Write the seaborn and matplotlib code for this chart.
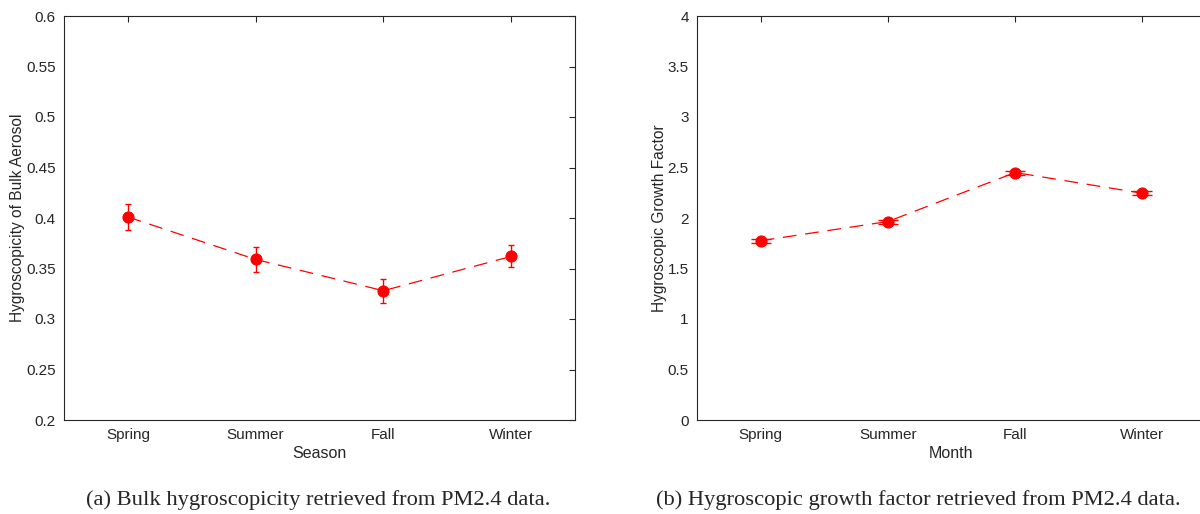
import matplotlib
matplotlib.use("Agg")
import matplotlib.pyplot as plt
import pandas as pd
import seaborn as sns

seasons = ["Spring", "Summer", "Fall", "Winter"]
kappa = [0.401, 0.359, 0.328, 0.362]
kappa_err = [0.0125, 0.012, 0.012, 0.011]
growth = [1.775, 1.965, 2.45, 2.245]
growth_err = [0.02, 0.02, 0.02, 0.02]

sns.set_style("white")
plt.rcParams["font.family"] = ["Liberation Sans", "DejaVu Sans"]

DARK = "#262626"


def draw_panel(ax, values, errs, ylim, yticks, ylabel, xlabel, capsize):
    df = pd.DataFrame({"season": seasons, "value": values})
    sns.lineplot(data=df, x="season", y="value", ax=ax, color="red",
                 linestyle=(0, (11, 7)), linewidth=0.9, sort=False,
                 marker="o", markersize=8, markeredgecolor="red")
    ax.errorbar(seasons, values, yerr=errs, fmt="none", ecolor="red",
                elinewidth=1.0, capsize=capsize, capthick=1.0)
    ax.set_xlim(-0.5, 3.5)
    ax.set_ylim(*ylim)
    ax.set_yticks(yticks)
    ax.set_yticklabels([f"{v:g}" for v in yticks])
    ax.set_xlabel(xlabel, fontsize=11.5, color=DARK, labelpad=3)
    ax.set_ylabel(ylabel, fontsize=11.2, color=DARK, labelpad=0.5)
    ax.tick_params(direction="in", length=4.5, width=0.8, colors=DARK,
                   labelsize=11, top=True, right=True, pad=6)
    for sp in ax.spines.values():
        sp.set_visible(True)
        sp.set_color(DARK)
        sp.set_linewidth(0.8)


fig = plt.figure(figsize=(12, 5.14), dpi=100)
ax1 = fig.add_axes([64 / 1200, 1 - 420 / 514, 511 / 1200, 404 / 514])
ax2 = fig.add_axes([697 / 1200, 1 - 420 / 514, 509 / 1200, 404 / 514])

draw_panel(ax1, kappa, kappa_err, (0.2, 0.6),
           [0.2, 0.25, 0.3, 0.35, 0.4, 0.45, 0.5, 0.55, 0.6],
           "Hygroscopicity of Bulk Aerosol", "Season", 2.5)
draw_panel(ax2, growth, growth_err, (0, 4),
           [0, 0.5, 1, 1.5, 2, 2.5, 3, 3.5, 4],
           "Hygroscopic Growth Factor", "Month", 7)

serif = ["Liberation Serif", "DejaVu Serif"]
fig.text(318 / 1200, 1 - 500 / 514, "(a) Bulk hygroscopicity retrieved from PM2.4 data.",
         ha="center", va="center", fontsize=16.2, family=serif)
fig.text(656 / 1200, 1 - 500 / 514, "(b) Hygroscopic growth factor retrieved from PM2.4 data.",
         ha="left", va="center", fontsize=16.2, family=serif)

fig.savefig("out.png", dpi=100)
